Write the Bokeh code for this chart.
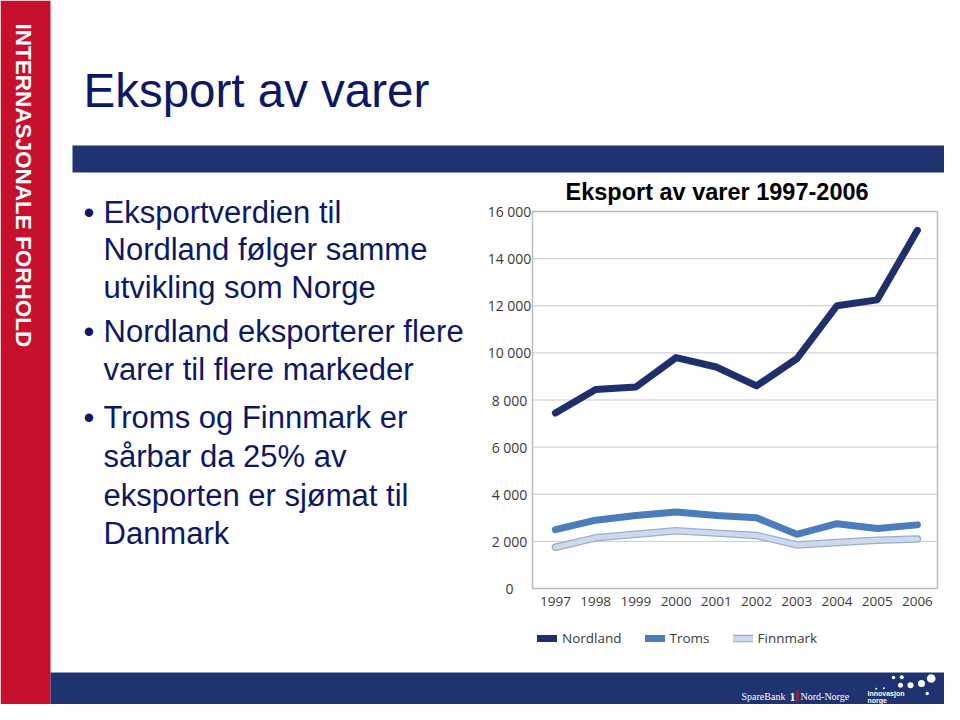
import math
from bokeh.plotting import figure
from bokeh.models import Legend, LegendItem, Range1d
from bokeh.core.properties import value
from bokeh.embed import file_html
from bokeh.resources import INLINE

# ---------------- data ----------------
years = [1997, 1998, 1999, 2000, 2001, 2002, 2003, 2004, 2005, 2006]
nordland = [7450, 8450, 8550, 9800, 9400, 8600, 9750, 12000, 12250, 15200]
troms = [2500, 2900, 3100, 3250, 3100, 3000, 2300, 2750, 2550, 2700]
finnmark = [1750, 2150, 2300, 2450, 2350, 2250, 1850, 1950, 2050, 2100]
series_names = ["Nordland", "Troms", "Finnmark"]
x_tick_labels = ["1997", "1998", "1999", "2000", "2001", "2002", "2003", "2004", "2005", "2006"]
y_ticks = [0, 2000, 4000, 6000, 8000, 10000, 12000, 14000, 16000]
y_tick_labels = ["0", "2 000", "4 000", "6 000", "8 000", "10 000", "12 000", "14 000", "16 000"]
chart_title = "Eksport av varer 1997-2006"
slide_title = "Eksport av varer"
side_label = "INTERNASJONALE FORHOLD"
bullets = [
    ["Eksportverdien til", "Nordland følger samme", "utvikling som Norge"],
    ["Nordland eksporterer flere", "varer til flere markeder"],
    ["Troms og Finnmark er", "sårbar da 25% av", "eksporten er sjømat til", "Danmark"],
]
logo_left = ["SpareBank", "1", "Nord-Norge"]
logo_right = ["innovasjon", "norge"]

# ---------------- styling / layout ----------------
NAVY = "#1f3271"
RED = "#c8102e"
TEXT_NAVY = "#0c1866"
SANS = "Liberation Sans"
SERIF = "Liberation Serif"
TICK_FONT = "Open Sans"
TICK_COLOR = "#3a3a3a"
W, H = 944, 704
# chart value extents and the pixel box that they occupy
X_MIN, X_MAX, Y_MIN, Y_MAX = 1996.43, 2006.5, 0, 16000
CH_L, CH_R, CH_T, CH_B = 532, 937, 211, 588

xs = (X_MAX - X_MIN) / (CH_R - CH_L)
ys = (Y_MAX - Y_MIN) / (CH_B - CH_T)
p = figure(width=W, height=H, output_backend="svg", toolbar_location=None,
           x_range=Range1d(0, W), y_range=Range1d(H, 0),
           x_axis_type=None, y_axis_type=None, min_border=0,
           outline_line_color=None, background_fill_color="white",
           border_fill_color="white")
p.grid.visible = False
p.extra_x_ranges = {"yr": Range1d(X_MIN - CH_L * xs, X_MAX + (W - CH_R) * xs)}
p.extra_y_ranges = {"val": Range1d(Y_MIN - (H - CH_B) * ys, Y_MAX + CH_T * ys)}
CH = dict(x_range_name="yr", y_range_name="val")


def txt(s, x, y, size, color, font=SANS, style="normal", angle=0,
        align="left", **kw):
    p.text(x=[x], y=[y], text=[s], text_font=value(font),
           text_font_size=value(f"{size}px"), text_font_style=style,
           text_color=color, angle=angle, text_baseline="middle",
           text_align=align, **kw)


# ---------------- slide decorations ----------------
p.quad(left=[0], right=[50], top=[0], bottom=[H], fill_color=RED, line_color=None)
p.quad(left=[72], right=[W], top=[145], bottom=[172], fill_color=NAVY, line_color=None)
p.quad(left=[50], right=[W], top=[672], bottom=[H], fill_color=NAVY, line_color=None)

txt(side_label, 23, 23, 22.5, "white", style="bold", angle=-math.pi / 2)
txt(slide_title, 83, 90, 47.5, TEXT_NAVY)

centers = [[212, 249, 287], [331, 369], [417, 456, 495, 533]]
for lines, cys in zip(bullets, centers):
    txt("\u2022", 83, cys[0], 31, TEXT_NAVY)
    for s, cy in zip(lines, cys):
        txt(s, 103, cy, 31, TEXT_NAVY)

# footer logos
txt(logo_left[0], 741, 696, 10, "white", font=SERIF)
txt(logo_left[1], 789, 696, 12, "white", font=SERIF, style="bold")
p.quad(left=[796], right=[798], top=[689], bottom=[701], fill_color=RED, line_color=None)
txt(logo_left[2], 800, 696, 10, "white", font=SERIF)
txt(logo_right[0], 867, 693, 7, "white", style="bold")
txt(logo_right[1], 867, 700, 7, "white", style="bold")
dot_x = [875.7, 883.3, 893, 901.3, 900, 910, 921, 930.7, 926.7]
dot_y = [688.3, 687.7, 677, 676.7, 684.7, 684.7, 683, 678, 693]
dot_d = [2, 2, 3.4, 4, 5, 6, 7, 8.6, 3.4]
p.scatter(x=dot_x, y=dot_y, size=dot_d, marker="circle", fill_color="white",
          line_color=None)

# ---------------- chart ----------------
n = len(y_ticks)
p.segment(x0=[X_MIN] * n, x1=[X_MAX] * n, y0=y_ticks, y1=y_ticks,
          line_color="#c9c9c9", line_width=1, **CH)
p.quad(left=[X_MIN], right=[X_MAX], bottom=[Y_MIN], top=[Y_MAX], fill_color=None,
       line_color="#bdbdbd", line_width=1.5, **CH)

f_out = p.line(years, finnmark, line_width=7.5, line_color="#9aaecb",
               line_join="round", line_cap="round", **CH)
f_in = p.line(years, finnmark, line_width=5, line_color="#cddaee",
              line_join="round", line_cap="round", **CH)
t_r = p.line(years, troms, line_width=7, line_color="#4a7dbb",
             line_join="round", line_cap="round", **CH)
n_r = p.line(years, nordland, line_width=7, line_color="#1f2f6e",
             line_join="round", line_cap="round", **CH)

# axis tick labels, placed through the chart's scales
p.text(x=[X_MIN] * n, y=y_ticks, text=y_tick_labels, text_font=value(TICK_FONT),
       text_font_size=value("14px"), text_color=TICK_COLOR, text_align="center",
       text_baseline="middle", x_offset=-23, **CH)
p.text(x=years, y=[Y_MIN] * len(years), text=x_tick_labels, text_font=value(TICK_FONT),
       text_font_size=value("13.5px"), text_color=TICK_COLOR, text_align="center",
       text_baseline="middle", y_offset=13, **CH)

txt(chart_title, 565, 191, 23.5, "black", style="bold")

legend = Legend(items=[LegendItem(label=series_names[0], renderers=[n_r]),
                       LegendItem(label=series_names[1], renderers=[t_r]),
                       LegendItem(label=series_names[2], renderers=[f_out, f_in])],
                orientation="horizontal", location=(537, H - 648),
                border_line_color=None, background_fill_alpha=0,
                padding=0, margin=0, spacing=23, label_standoff=5,
                glyph_width=20, glyph_height=20,
                label_text_font=TICK_FONT, label_text_font_size="13.5px",
                label_text_color=TICK_COLOR)
p.add_layout(legend)

open("out.html", "w").write(file_html(p, INLINE))
